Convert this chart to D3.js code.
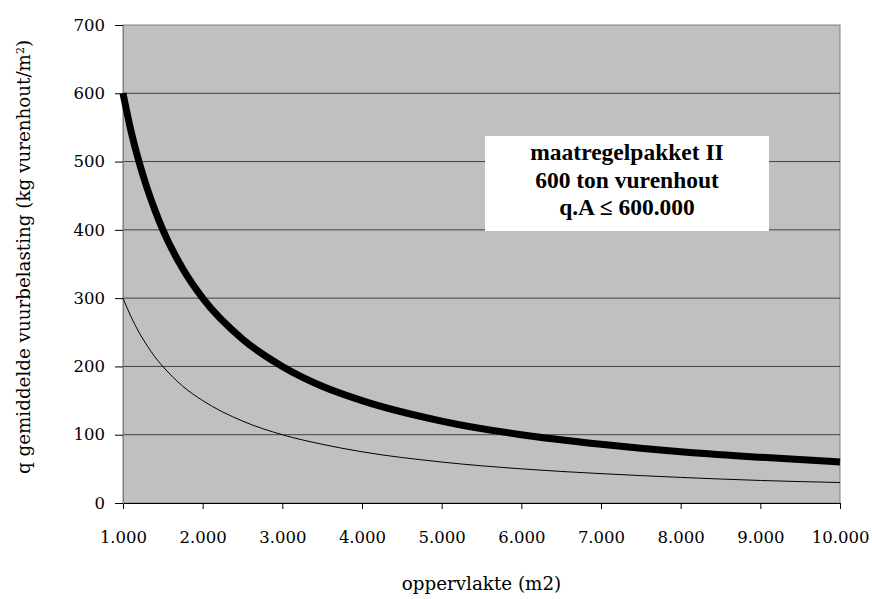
<!DOCTYPE html>
<html>
<head>
<meta charset="utf-8">
<script src="https://cdn.jsdelivr.net/npm/d3@7"></script>
<style>
  body { margin: 0; background: #fff; }
  text { font-family: "DejaVu Serif", serif; }
  .legend text { font-family: "Liberation Serif", serif; }
</style>
</head>
<body>
<script>
const w = 872;
const h = 599;
const pLeft = 123, pRight = 840, pTop = 25, pBottom = 503;

// oppervlakte (m2)
const areas = [1000, 1100, 1200, 1300, 1400, 1500, 1750, 2000, 2500, 3000, 3500, 4000, 5000, 6000, 7000, 8000, 9000, 10000];
// maatregelpakket II, 600 ton vurenhout (dikke lijn)
const qThick = [600, 545, 500, 462, 429, 400, 343, 300, 240, 200, 171, 150, 120, 100, 86, 75, 67, 60];
// dunne lijn
const qThin = [300, 273, 250, 231, 214, 200, 171, 150, 120, 100, 86, 75, 60, 50, 43, 37.5, 33, 30];

const xTicks = [1000, 2000, 3000, 4000, 5000, 6000, 7000, 8000, 9000, 10000];
const yTicks = [0, 100, 200, 300, 400, 500, 600, 700];
const legendLines = ["maatregelpakket II", "600 ton vurenhout", "q.A \u2264 600.000"];

const fmt = d => d3.format(",")(d).replace(/,/g, ".");

const xScale = d3.scaleLinear().domain([1000, 10000]).range([pLeft, pRight]);
const yScale = d3.scaleLinear().domain([0, 700]).range([pBottom, pTop]);

const svg = d3.select("body").append("svg")
  .attr("width", w)
  .attr("height", h);

// plot area
svg.append("rect")
  .attr("x", pLeft).attr("y", pTop)
  .attr("width", pRight - pLeft).attr("height", pBottom - pTop)
  .attr("fill", "#c0c0c0")
  .attr("stroke", "#808080")
  .attr("stroke-width", 1);

// gridlines
svg.append("g")
  .selectAll("line")
  .data(yTicks.filter(d => d > 0 && d < 700))
  .enter()
  .append("line")
  .attr("x1", pLeft).attr("x2", pRight)
  .attr("y1", d => yScale(d)).attr("y2", d => yScale(d))
  .attr("stroke", "#404040")
  .attr("stroke-width", 1);

const xAxis = d3.axisBottom(xScale)
  .tickValues(xTicks)
  .tickFormat(fmt)
  .tickSizeOuter(0)
  .tickSize(6)
  .tickPadding(22);

const yAxis = d3.axisLeft(yScale)
  .tickValues(yTicks)
  .tickSizeOuter(0)
  .tickSize(8)
  .tickPadding(10);

const gx = svg.append("g")
  .attr("transform", "translate(0," + pBottom + ")")
  .call(xAxis);

const gy = svg.append("g")
  .attr("transform", "translate(" + pLeft + ",0)")
  .call(yAxis);

gx.selectAll("text").style("font-size", "16.5px").attr("fill", "#000");
gy.selectAll("text").style("font-size", "16.5px").attr("fill", "#000");
gx.selectAll("line, path").attr("stroke", "#000");
gy.selectAll("line").attr("stroke", "#000");
gy.select("path").attr("stroke", "#808080");

const line = d3.line()
  .x((d, i) => xScale(areas[i]))
  .y(d => yScale(d))
  .curve(d3.curveMonotoneX);

svg.append("path")
  .datum(qThin)
  .attr("d", line)
  .attr("fill", "none")
  .attr("stroke", "#000")
  .attr("stroke-width", 1);

svg.append("path")
  .datum(qThick)
  .attr("d", line)
  .attr("fill", "none")
  .attr("stroke", "#000")
  .attr("stroke-width", 7);

// legend box
const legend = svg.append("g").attr("class", "legend");
legend.append("rect")
  .attr("x", 485).attr("y", 136)
  .attr("width", 284).attr("height", 95)
  .attr("fill", "#fff");

legend.selectAll("text")
  .data(legendLines)
  .enter()
  .append("text")
  .attr("x", 627)
  .attr("y", (d, i) => 160 + i * 27.5)
  .attr("text-anchor", "middle")
  .style("font-size", "23.5px")
  .style("font-weight", "bold")
  .text(d => d);

// axis titles
svg.append("text")
  .attr("x", (pLeft + pRight) / 2)
  .attr("y", 590)
  .attr("text-anchor", "middle")
  .style("font-size", "18.3px")
  .text("oppervlakte (m2)");

const yt = svg.append("text")
  .attr("transform", "translate(30,257) rotate(-90)")
  .attr("text-anchor", "middle")
  .style("font-size", "18.3px");
yt.append("tspan").text("q gemiddelde vuurbelasting (kg vurenhout/m");
yt.append("tspan").attr("baseline-shift", "super").style("font-size", "11px").text("2");
yt.append("tspan").text(")");
</script>
</body>
</html>
